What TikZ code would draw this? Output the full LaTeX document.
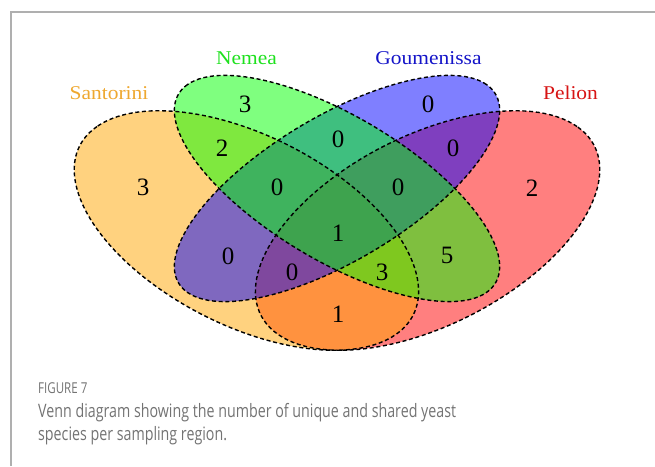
\documentclass[tikz,border=0pt]{standalone}
\usepackage{fontspec}
\setmainfont{Liberation Serif}
\newfontfamily\catfont[FakeStretch=1.1]{Liberation Serif}
\newfontfamily\captionfont[FakeStretch=0.77]{Open Sans}
\usepackage{tikz}
\definecolor{santorini}{RGB}{255,165,0}
\definecolor{catorange}{RGB}{238,168,48}
\definecolor{catgreen}{RGB}{30,225,30}
\definecolor{catblue}{RGB}{20,20,200}
\definecolor{catred}{RGB}{215,20,20}
\definecolor{framegray}{RGB}{175,175,175}
\definecolor{captiongray}{RGB}{115,115,115}
\tikzset{
  setfill/.style={fill=#1, fill opacity=0.5},
  setline/.style={draw=black, line width=1.4pt, dash pattern=on 4pt off 2.7pt},
  santoriniset/.style={shift={(-0.15,-0.1)}, rotate=135},
  pelionset/.style={shift={(0.15,-0.1)}, rotate=45},
  nemeaset/.style={rotate=135},
  goumenissaset/.style={rotate=45},
  count/.style={font=\fontsize{25}{28}\selectfont, inner sep=0pt},
  catname/.style={font=\catfont\fontsize{19.5}{22}\selectfont, text=#1, anchor=base, inner sep=0pt},
  captext/.style={anchor=base west, inner sep=0pt, text=captiongray},
}

\begin{document}
\begin{tikzpicture}[x=1pt, y=1pt]
    \useasboundingbox (0,0) rectangle (655,466);

    % Frame of the figure
    \draw[framegray, line width=1.3pt] (11,0) -- (11,454) -- (655,454);

    % Ellipses, unit square stretched to the panel
    \begin{scope}[shift={(337,277.5)}, xscale=604, yscale=420]
        \fill[setfill=red, pelionset] (0,0) ellipse [x radius=0.35, y radius=0.2];
        \fill[setfill=santorini, santoriniset] (0,0) ellipse [x radius=0.35, y radius=0.2];
        \fill[setfill=blue, goumenissaset] (0,0) ellipse [x radius=0.35, y radius=0.15];
        \fill[setfill=green, nemeaset] (0,0) ellipse [x radius=0.35, y radius=0.15];
        % Outlines
        \draw[setline, pelionset] (0,0) ellipse [x radius=0.35, y radius=0.2];
        \draw[setline, santoriniset] (0,0) ellipse [x radius=0.35, y radius=0.2];
        \draw[setline, goumenissaset] (0,0) ellipse [x radius=0.35, y radius=0.15];
        \draw[setline, nemeaset] (0,0) ellipse [x radius=0.35, y radius=0.15];
    \end{scope}

    % Category names
    \node[catname=catorange] (lblSantorini) at (109,366) {Santorini};
    \node[catname=catgreen] (lblNemea) at (246.5,401) {Nemea};
    \node[catname=catblue] (lblGoumenissa) at (428.5,401) {Goumenissa};
    \node[catname=catred] (lblPelion) at (570.5,366) {Pelion};

    % Counts per region
    \node[count] (cS) at (143,279) {3};
    \node[count] (cN) at (245,362) {3};
    \node[count] (cG) at (428,362) {0};
    \node[count] (cP) at (532,278) {2};
    \node[count] (cSN) at (222,318) {2};
    \node[count] (cNG) at (338,327) {0};
    \node[count] (cGP) at (453,318) {0};
    \node[count] (cSNG) at (277,279) {0};
    \node[count] (cNGP) at (398,279) {0};
    \node[count] (cSNGP) at (338,233) {1};
    \node[count] (cSG) at (228,210) {0};
    \node[count] (cNP) at (447,211) {5};
    \node[count] (cSGP) at (292,194) {0};
    \node[count] (cSNP) at (382,194) {3};
    \node[count] (cSP) at (338,152) {1};

    % Caption
    \node[captext, font=\captionfont\fontsize{15}{17}\selectfont] (figNum) at (38,73) {FIGURE 7};
    \node[captext, font=\captionfont\fontsize{18.5}{22}\selectfont] (capLineA) at (38,49) {Venn diagram showing the number of unique and shared yeast};
    \node[captext, font=\captionfont\fontsize{18.5}{22}\selectfont] (capLineB) at (38,26) {species per sampling region.};
\end{tikzpicture}
\end{document}
